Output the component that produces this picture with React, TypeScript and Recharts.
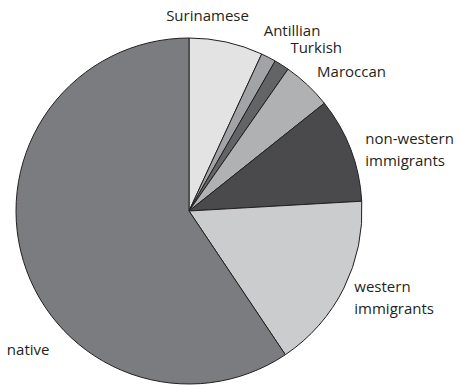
import { PieChart, Pie, Cell } from "recharts";

const groups = ["Surinamese", "Antillian", "Turkish", "Maroccan", "non-western immigrants", "western immigrants", "native"];
const shares = [6.9, 1.4, 1.4, 4.6, 9.8, 16.5, 59.4];
const fills = ["#e3e3e4", "#a2a3a6", "#636466", "#b0b1b3", "#4a4a4c", "#cbcccd", "#7b7c7f"];

const data = groups.map((name, i) => ({ name, value: shares[i] }));

// nudges from the radial anchor point, per label
const labelShift: Record<string, [number, number, "start" | "middle"]> = {
  Surinamese: [-23, -7.5, "middle"],
  Antillian: [-14, -10, "start"],
  Turkish: [-2, -1, "start"],
  Maroccan: [-4, 1, "start"],
  "non-western immigrants": [-4, 6.5, "start"],
  "western immigrants": [-7.5, 0, "start"],
  native: [2.5, 82, "start"],
};

const RADIAN = Math.PI / 180;

const renderLabel = (props: any) => {
  const { cx, cy, midAngle, outerRadius, name } = props;
  const r = outerRadius + 20;
  const [dx, dy, anchor] = labelShift[name] ?? [0, 0, "start"];
  const x = cx + r * Math.cos(-midAngle * RADIAN) + dx;
  const y = cy + r * Math.sin(-midAngle * RADIAN) + dy;
  const words = name.includes("immigrants") ? [name.replace(" immigrants", ""), "immigrants"] : [name];
  const lh = 22;
  const y0 = y - ((words.length - 1) * lh) / 2;
  return (
    <text x={x} y={y0} textAnchor={anchor} dominantBaseline="central" fontSize={15} fill="#231f20" fontFamily="'Open Sans', sans-serif">
      {words.map((w, i) => (
        <tspan key={w} x={x} y={y0 + i * lh} dominantBaseline="central">
          {w}
        </tspan>
      ))}
    </text>
  );
};

export default function App() {
  return (
    <div style={{ width: 459, height: 385, background: "#fff" }}>
      <style>{"body{margin:0}"}</style>
      <PieChart width={459} height={385} margin={{ top: 0, right: 0, bottom: 0, left: 0 }}>
        <Pie
          data={data}
          dataKey="value"
          nameKey="name"
          cx={189}
          cy={211}
          outerRadius={173}
          startAngle={90}
          endAngle={-270}
          stroke="#231f20"
          strokeWidth={1}
          label={renderLabel}
          labelLine={false}
          isAnimationActive={false}
        >
          {data.map((d, i) => (
            <Cell key={d.name} fill={fills[i]} />
          ))}
        </Pie>
      </PieChart>
    </div>
  );
}
